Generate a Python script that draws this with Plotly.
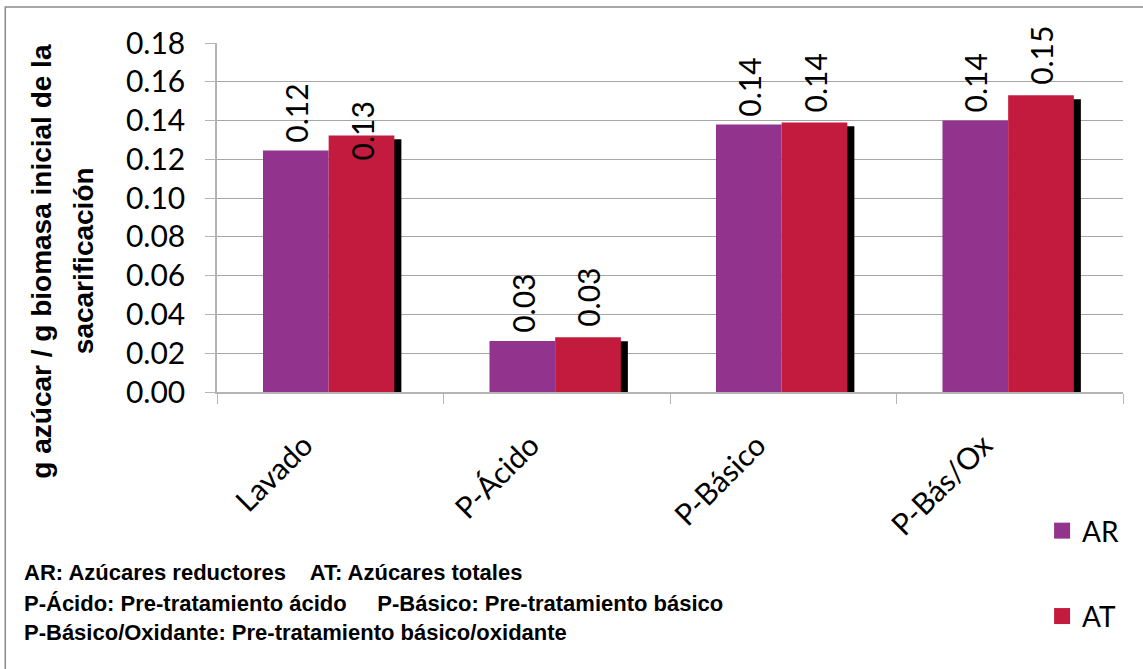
import plotly.graph_objects as go

# Sugar yield after saccharification, per pretreatment
categories = ["Lavado", "P-Ácido", "P-Básico", "P-Bás/Ox"]
ar_values = [0.1246, 0.0263, 0.138, 0.140]   # AR: azúcares reductores
at_values = [0.1323, 0.0282, 0.139, 0.153]   # AT: azúcares totales
y_ticks = [0.00, 0.02, 0.04, 0.06, 0.08, 0.10, 0.12, 0.14, 0.16, 0.18]

footnotes = [
    "AR: Azúcares reductores    AT: Azúcares totales",
    "P-Ácido: Pre-tratamiento ácido     P-Básico: Pre-tratamiento básico",
    "P-Básico/Oxidante: Pre-tratamiento básico/oxidante",
]

AR_COLOR = "#92338e"
AT_COLOR = "#c31b3e"
GRID = "#a6a6a6"
AXIS = "#b4b4b4"
LABEL_FONT = "Lato, Carlito, Calibri, sans-serif"
BOLD_FONT = "Liberation Sans, Arial, sans-serif"

BAR_W = 0.29
AR_OFF = -0.297
AT_OFF = -0.007
SHADOW_DX = 0.031
SHADOW_DROP = 0.002

idx = list(range(len(categories)))

fig = go.Figure()

# drop shadow behind the AT bars
fig.add_trace(go.Bar(
    x=categories, y=at_values, base=-SHADOW_DROP,
    offset=AT_OFF + SHADOW_DX, width=BAR_W,
    marker=dict(color="black", line=dict(width=0)),
    showlegend=False, hoverinfo="skip",
))
fig.add_trace(go.Bar(
    x=categories, y=ar_values, name="AR",
    offset=AR_OFF, width=BAR_W,
    marker=dict(color=AR_COLOR, line=dict(width=0)),
    showlegend=False,
))
fig.add_trace(go.Bar(
    x=categories, y=at_values, name="AT",
    offset=AT_OFF, width=BAR_W,
    marker=dict(color=AT_COLOR, line=dict(width=0)),
    showlegend=False,
))

# legend entries with larger square swatches
for nm, col in (("AR", AR_COLOR), ("AT", AT_COLOR)):
    fig.add_trace(go.Scatter(
        x=[None], y=[None], mode="markers", name=nm, legendgroup=nm,
        marker=dict(symbol="square", size=20, color=col),
    ))

annotations = []
# value labels above each bar
for i in idx:
    annotations.append(dict(
        x=i + AR_OFF + BAR_W / 2, y=ar_values[i], xref="x", yref="y",
        text=f"{ar_values[i]:.2f}", textangle=-90, showarrow=False,
        xanchor="center", yanchor="bottom", yshift=6,
        font=dict(family=LABEL_FONT, size=30, color="black"),
    ))
    annotations.append(dict(
        x=i + AT_OFF + BAR_W / 2, y=at_values[i], xref="x", yref="y",
        text=f"{at_values[i]:.2f}", textangle=-90, showarrow=False,
        xanchor="center", yanchor="bottom", yshift=(-27 if i == 0 else 8),
        font=dict(family=LABEL_FONT, size=30, color="black"),
    ))

# two-line y-axis title
annotations.append(dict(
    x=-0.1935, y=0.3754, xref="paper", yref="paper",
    text="<b>g azúcar / g biomasa inicial de la</b>", textangle=-90,
    showarrow=False, xanchor="center", yanchor="middle",
    font=dict(family=BOLD_FONT, size=28, color="black"),
))
annotations.append(dict(
    x=-0.1466, y=0.3754, xref="paper", yref="paper",
    text="<b>sacarificación</b>", textangle=-90, showarrow=False,
    xanchor="center", yanchor="middle",
    font=dict(family=BOLD_FONT, size=28, color="black"),
))

# footnote lines
for line, yp in zip(footnotes, [-0.5186, -0.6074, -0.6905]):
    annotations.append(dict(
        x=-0.215, y=yp, xref="paper", yref="paper",
        text=f"<b>{line}</b>", showarrow=False,
        xanchor="left", yanchor="middle",
        font=dict(family=BOLD_FONT, size=22, color="black"),
    ))

fig.update_layout(
    width=1143, height=669,
    margin=dict(l=217, r=20, t=43, b=277),
    paper_bgcolor="white", plot_bgcolor="white",
    barmode="overlay",
    annotations=annotations,
    shapes=[dict(
        type="rect", xref="paper", yref="paper",
        x0=-0.2337, x1=1.03, y0=-0.85, y1=1.1032,
        line=dict(color="#8a8a8a", width=1.5), layer="below",
    )],
    legend=dict(
        x=0.9107, y=-0.3265, xanchor="left", yanchor="top",
        font=dict(family=LABEL_FONT, size=28, color="black"),
        tracegroupgap=46, itemwidth=30, bgcolor="rgba(0,0,0,0)",
    ),
    xaxis=dict(
        type="category", categoryorder="array", categoryarray=categories,
        range=[-0.5, len(categories) - 0.5],
        tickson="boundaries", ticks="outside", ticklen=10, tickcolor=AXIS,
        showline=True, linecolor=AXIS, linewidth=1.5,
        tickangle=-45, ticklabelstandoff=22, ticklabelshift=-26,
        tickfont=dict(family=LABEL_FONT, size=30, color="black"),
        showgrid=False,
    ),
    yaxis=dict(
        range=[0, 0.18], tickvals=y_ticks,
        ticktext=[f"{v:.2f}" for v in y_ticks],
        ticks="outside", ticklen=10, tickcolor=AXIS,
        showline=True, linecolor=AXIS, linewidth=1.5,
        showgrid=True, gridcolor=GRID, gridwidth=1,
        zeroline=False, ticklabelstandoff=14,
        tickfont=dict(family=LABEL_FONT, size=30, color="black"),
    ),
)

fig.write_html("out.html")
